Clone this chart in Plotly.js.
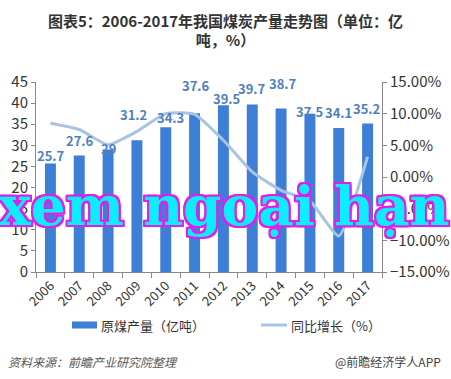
<!DOCTYPE html>
<html>
<head>
<meta charset="utf-8">
<script src="https://cdn.plot.ly/plotly-3.0.1.min.js"></script>
<style>html,body{margin:0;padding:0;background:#fff;}#chart{width:451px;height:379px;}</style>
</head>
<body>
<div id="chart"></div>
<script>
// ---- data ----
const years = ['2006','2007','2008','2009','2010','2011','2012','2013','2014','2015','2016','2017'];
const production = [25.7, 27.6, 29.0, 31.2, 34.3, 37.6, 39.5, 39.7, 38.7, 37.5, 34.1, 35.2];
const productionLabels = ['25.7','27.6','29','31.2','34.3','37.6','39.5','39.7','38.7','37.5','34.1','35.2'];
const growth = [8.5, 7.5, 5.1, 7.2, 10.0, 9.9, 5.8, 0.8, -2.1, -3.8, -9.3, 3.2];
const titleText = '图表5：2006-2017年我国煤炭产量走势图（单位：亿<br>吨，%）';
const seriesNames = ['原煤产量（亿吨）', '同比增长（%）'];
const sourceText = '资料来源：前瞻产业研究院整理';
const creditText = '@前瞻经济学人APP';
const watermarkText = 'xem ngoại hạn';

// ---- label placement (pixels) ----
const labelDy = [8, 15, 1, 26, 10, 28, 7, 16, 25, 2, 16, 15];
const labelDx = [1, 1, 0, -3, 5, 1, 3, 0, 2, 0, 0, -1];

const FONT = 'Noto Sans CJK SC, Noto Sans, sans-serif';
const barColor = '#3d7fd6';
const lineColor = '#a9c3e4';
const labelColor = '#4f7fbf';

const traces = [
  {
    type: 'bar', x: years, y: production, name: seriesNames[0],
    marker: {color: barColor}, width: 0.38, showlegend: false, hoverinfo: 'skip'
  },
  {
    type: 'scatter', mode: 'lines', x: years, y: growth, name: seriesNames[1], yaxis: 'y2',
    line: {color: lineColor, width: 3, shape: 'spline', smoothing: 0.5},
    showlegend: false, hoverinfo: 'skip'
  }
];

const annotations = years.map((yr, i) => ({
  x: i, y: production[i], xref: 'x', yref: 'y',
  text: productionLabels[i], showarrow: false,
  xanchor: 'center', yanchor: 'middle', yshift: labelDy[i], xshift: labelDx[i],
  font: {family: FONT, size: 13, color: labelColor, weight: 700}
}));

// pixel -> paper helpers (plot area 36..382 x, 82..272 y)
const px = v => (v - 36) / 346;
const py = v => (272 - v) / 190;

annotations.push(
  {x: px(99), y: py(325), xref: 'paper', yref: 'paper', xanchor: 'left', yanchor: 'middle',
   text: seriesNames[0], showarrow: false, font: {family: FONT, size: 13, color: '#333'}},
  {x: px(289), y: py(325), xref: 'paper', yref: 'paper', xanchor: 'left', yanchor: 'middle',
   text: seriesNames[1], showarrow: false, font: {family: FONT, size: 13, color: '#333'}},
  {x: px(6), y: py(361), xref: 'paper', yref: 'paper', xanchor: 'left', yanchor: 'middle',
   text: '<i>' + sourceText + '</i>', showarrow: false, font: {family: FONT, size: 12, color: '#555'}},
  {x: px(443), y: py(361), xref: 'paper', yref: 'paper', xanchor: 'right', yanchor: 'middle',
   text: creditText, showarrow: false, font: {family: FONT, size: 12, color: '#444'}},
  {x: px(224), y: py(205), xref: 'paper', yref: 'paper', xanchor: 'center', yanchor: 'middle',
   text: watermarkText, showarrow: false,
   font: {family: 'DejaVu Serif, serif', size: 55, color: '#08f0ff', weight: 700,
     shadow: '2px 0 0 #e01fe8, -2px 0 0 #e01fe8, 0 2px 0 #e01fe8, 0 -2px 0 #e01fe8, 2px 2px 0 #e01fe8, -2px -2px 0 #e01fe8, 2px -2px 0 #e01fe8, -2px 2px 0 #e01fe8'}}
);

const shapes = [
  {type: 'rect', xref: 'paper', yref: 'paper', x0: px(72), x1: px(97), y0: py(321.5), y1: py(328.5),
   fillcolor: barColor, line: {width: 0}},
  {type: 'line', xref: 'paper', yref: 'paper', x0: px(261), x1: px(287), y0: py(325), y1: py(325),
   line: {color: lineColor, width: 3}}
];

const layout = {
  width: 451, height: 379,
  margin: {l: 36, r: 69, t: 82, b: 107},
  paper_bgcolor: '#fff', plot_bgcolor: '#fff',
  font: {family: FONT, color: '#333'},
  title: {text: titleText, x: 0.5, xref: 'container', y: 0.93, yref: 'container', yanchor: 'top',
    font: {family: FONT, size: 15, color: '#333', weight: 700}},
  showlegend: false,
  bargap: 0.62,
  xaxis: {
    type: 'category', range: [-0.5, 11.5], autorange: false,
    showgrid: false, showline: true, linecolor: '#888', linewidth: 1,
    ticks: 'outside', tickson: 'boundaries', ticklen: 5, tickcolor: '#888',
    tickangle: -45, tickfont: {family: FONT, size: 13, color: '#333'}
  },
  yaxis: {
    range: [0, 45], autorange: false, dtick: 5, showgrid: false, zeroline: false, showline: true, linecolor: '#888',
    ticks: 'outside', ticklen: 4, tickcolor: '#888',
    tickfont: {family: FONT, size: 15, color: '#333'}
  },
  yaxis2: {
    overlaying: 'y', side: 'right', range: [-15, 15], autorange: false, dtick: 5, showgrid: false, zeroline: false,
    showline: true, linecolor: '#888', ticks: 'outside', ticklen: 4, tickcolor: '#888',
    tickformat: '.2f', ticksuffix: '%',
    tickfont: {family: FONT, size: 15, color: '#333'}
  },
  annotations: annotations,
  shapes: shapes
};

Plotly.newPlot('chart', traces, layout, {staticPlot: true, displayModeBar: false});
</script>
</body>
</html>
